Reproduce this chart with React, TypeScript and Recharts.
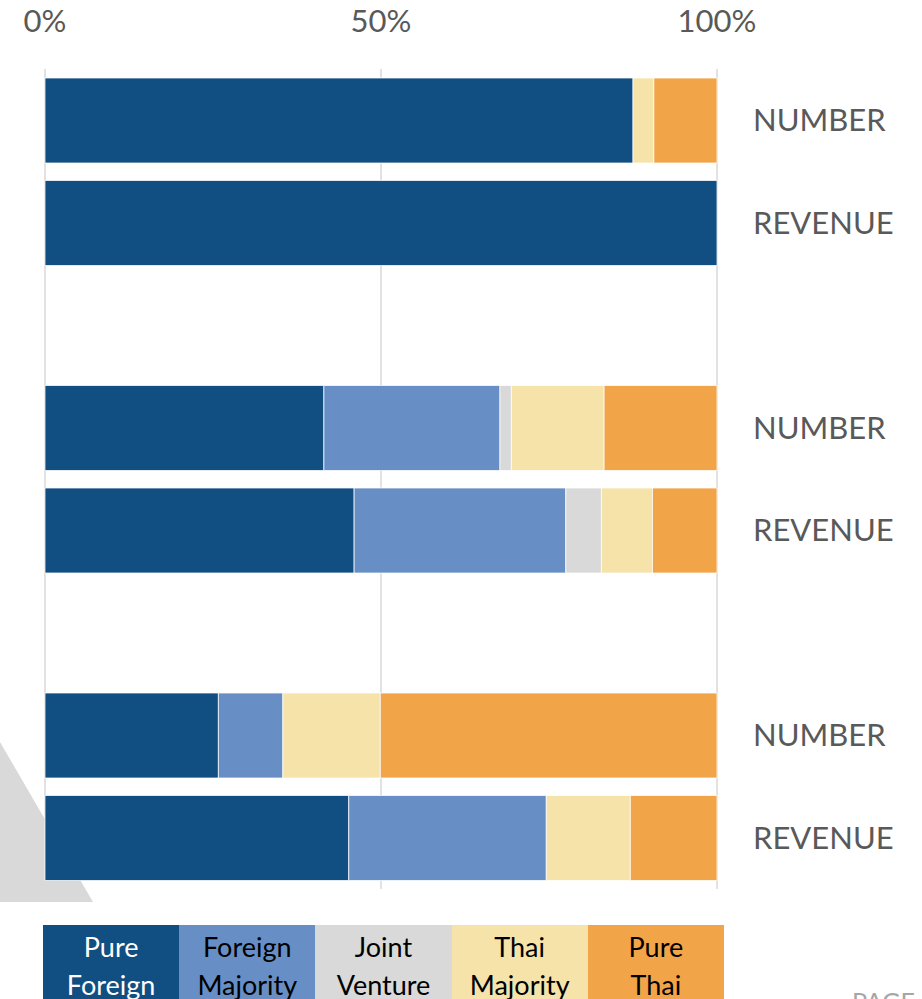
import { BarChart, Bar, XAxis, YAxis, CartesianGrid } from "recharts";

// rows top to bottom; "" rows are the empty spacers between the three groups
const categories = ["NUMBER", "REVENUE", "", "NUMBER", "REVENUE", "", "NUMBER", "REVENUE"];

const pureForeign = [87.5, 100, null, 41.5, 46.0, null, 25.8, 45.2];
const foreignMajority = [0, 0, null, 26.2, 31.5, null, 9.6, 29.4];
const jointVenture = [0, 0, null, 1.7, 5.3, null, 0, 0];
const thaiMajority = [3.1, 0, null, 13.8, 7.6, null, 14.5, 12.5];
const pureThai = [9.4, 0, null, 16.8, 9.6, null, 50.1, 12.9];

const xTicks = [0, 50, 100];

const series = [
  { key: "pureForeign", label: ["Pure", "Foreign"], values: pureForeign, color: "#114e82", text: "#ffffff" },
  { key: "foreignMajority", label: ["Foreign", "Majority"], values: foreignMajority, color: "#678fc5", text: "#000000" },
  { key: "jointVenture", label: ["Joint", "Venture"], values: jointVenture, color: "#d9d9d9", text: "#000000" },
  { key: "thaiMajority", label: ["Thai", "Majority"], values: thaiMajority, color: "#f5e3aa", text: "#000000" },
  { key: "pureThai", label: ["Pure", "Thai"], values: pureThai, color: "#f2a548", text: "#000000" },
];

const data = categories.map((name, i) => {
  const row: Record<string, number | string | null> = { row: i, name };
  series.forEach((s) => {
    row[s.key] = s.values[i];
  });
  return row;
});

const FONT = "Lato, 'Open Sans', sans-serif";

export default function App() {
  return (
    <div
      style={{
        position: "absolute",
        left: 0,
        top: 0,
        width: 922,
        height: 999,
        overflow: "hidden",
        background: "#fff",
        fontFamily: FONT,
      }}
    >
      {/* decorative grey triangle behind the chart */}
      <svg width={922} height={999} style={{ position: "absolute", left: 0, top: 0 }}>
        <polygon points="0,742 93,902 0,902" fill="#d9d9d9" />
      </svg>

      <div style={{ position: "absolute", left: 0, top: 0 }}>
        <BarChart
          width={922}
          height={999}
          data={data}
          layout="vertical"
          barSize={85}
          margin={{ top: 0, right: 0, bottom: 110, left: 45 }}
        >
          <CartesianGrid horizontal={false} stroke="#d9d9d9" strokeWidth={1.5} />
          <XAxis
            type="number"
            orientation="top"
            domain={[0, 100]}
            ticks={xTicks}
            height={69}
            axisLine={false}
            tickLine={false}
            tickSize={0}
            tickMargin={37}
            interval={0}
            tickFormatter={(v) => `${v}%`}
            tick={{ fill: "#595959", fontSize: 31, fontFamily: FONT }}
          />
          <YAxis
            type="category"
            dataKey="row"
            orientation="right"
            width={205}
            axisLine={false}
            tickLine={false}
            tickSize={0}
            tickMargin={36}
            interval={0}
            tickFormatter={(_v, i) => categories[i]}
            tick={{ fill: "#595959", fontSize: 31, fontFamily: FONT }}
          />
          {series.map((s) => (
            <Bar
              key={s.key}
              dataKey={s.key}
              stackId="a"
              fill={s.color}
              stroke="#ffffff"
              strokeWidth={0.75}
              isAnimationActive={false}
            />
          ))}
        </BarChart>
      </div>

      {/* legend */}
      <div style={{ position: "absolute", left: 43, top: 925, display: "flex" }}>
        {series.map((s) => (
          <div
            key={s.key}
            style={{
              width: 136.2,
              height: 80,
              background: s.color,
              color: s.text,
              textAlign: "center",
              fontSize: 27,
              lineHeight: "38px",
              paddingTop: 3,
              boxSizing: "border-box",
            }}
          >
            <div>{s.label[0]}</div>
            <div>{s.label[1]}</div>
          </div>
        ))}
      </div>

      <div
        style={{
          position: "absolute",
          left: 852,
          top: 989,
          fontSize: 25,
          lineHeight: "25px",
          color: "#a6a6a6",
        }}
      >
        PAGE
      </div>
    </div>
  );
}
